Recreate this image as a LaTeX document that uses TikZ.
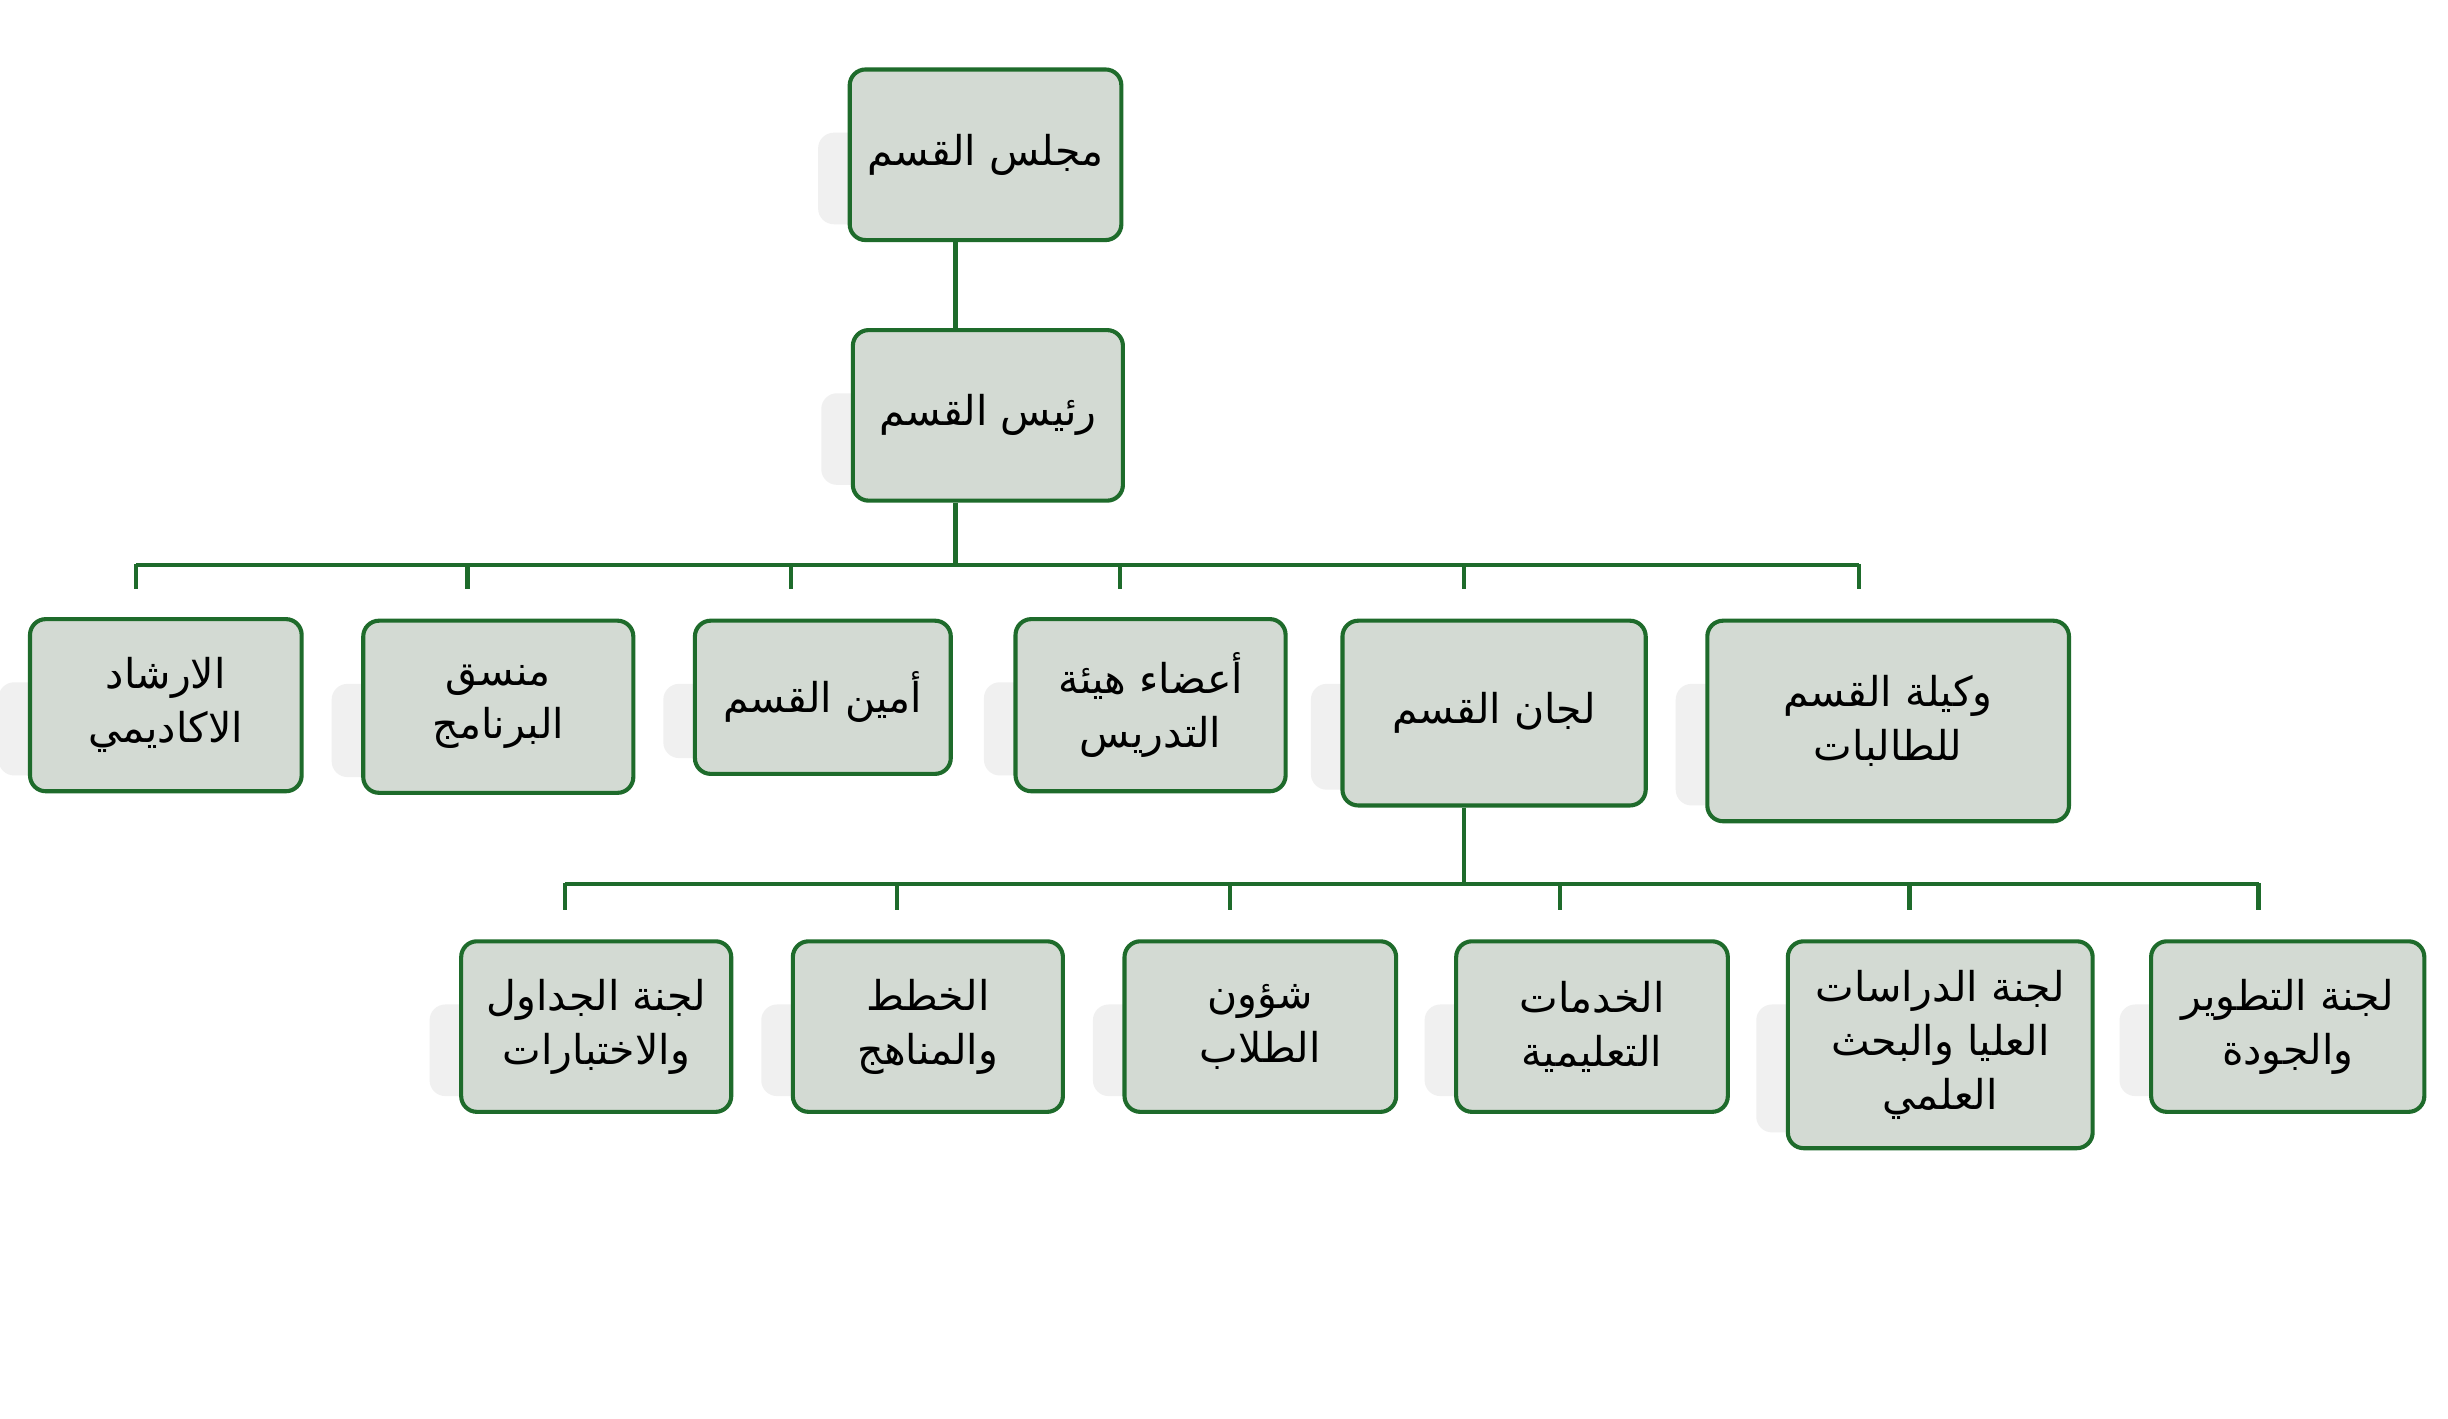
\documentclass[tikz,border=0pt]{standalone}
\usepackage{fontspec}
\TeXXeTstate=1
\newfontfamily\arabicfont[Script=Arabic]{DejaVu Sans}
\newcommand\ar[1]{\beginR #1\endR}
\definecolor{grn}{HTML}{1E6B2B}
\definecolor{boxfill}{HTML}{D3DAD3}
\tikzset{
 box/.style={draw=grn,fill=boxfill,line width=1.3pt,rounded corners=5pt,align=center,font=\arabicfont\fontsize{13}{17}\selectfont,inner sep=0pt},
 conn/.style={draw=grn,line width=1.3pt},
 shad/.style={fill=gray!12,draw=none,rounded corners=5pt}
}
\newcommand\bx[6]{% name, x1,y1,x2,y2,text
 \fill[shad] (#2-20,#3+40) rectangle (#2+20,#5-10);
 \node[box,minimum width={(#4-#2)*0.5pt},minimum height={(#5-#3)*0.5pt}] (#1) at ({(#2+#4)/2},{(#3+#5)/2}) {#6};}
\begin{document}
\begin{tikzpicture}[x=0.5pt,y=-0.5pt]
\useasboundingbox[fill=white] (0,0) rectangle (1550,898);
\bx{a}{538}{44}{710}{152}{\ar{مجلس القسم}}
\bx{b}{540}{209}{711}{317}{\ar{رئيس القسم}}
\bx{r1}{19}{392}{191}{501}{\ar{الارشاد}\\\ar{الاكاديمي}}
\bx{r2}{230}{393}{401}{502}{\ar{منسق}\\\ar{البرنامج}}
\bx{r3}{440}{393}{602}{490}{\ar{أمين القسم}}
\bx{r4}{643}{392}{814}{501}{\ar{أعضاء هيئة}\\\ar{التدريس}}
\bx{r5}{850}{393}{1042}{510}{\ar{لجان القسم}}
\bx{r6}{1081}{393}{1310}{520}{\ar{وكيلة القسم}\\\ar{للطالبات}}
\bx{s1}{292}{596}{463}{704}{\ar{لجنة الجداول}\\\ar{والاختبارات}}
\bx{s2}{502}{596}{673}{704}{\ar{الخطط}\\\ar{والمناهج}}
\bx{s3}{712}{596}{884}{704}{\ar{شؤون}\\\ar{الطلاب}}
\bx{s4}{922}{596}{1094}{704}{\ar{الخدمات}\\\ar{التعليمية}}
\bx{s5}{1132}{596}{1325}{727}{\ar{لجنة الدراسات}\\\ar{العليا والبحث}\\\ar{العلمي}}
\bx{s6}{1362}{596}{1535}{704}{\ar{لجنة التطوير}\\\ar{والجودة}}
\coordinate (h1) at (605,358);
\coordinate (h2) at (927,560);
\draw[conn] (a.south -| h1) -- (b.north -| h1);
\draw[conn] (b.south -| h1) -- (h1);
\draw[conn] (86,358) -- (1177,358);
\foreach \x in {86,296,501,709,927,1177} \draw[conn] (\x,357) -- (\x,373);
\draw[conn] (r5.south -| h2) -- (h2);
\draw[conn] (358,560) -- (1430,560);
\foreach \x in {358,568,779,988,1209,1430} \draw[conn] (\x,559) -- (\x,576);
\end{tikzpicture}
\end{document}
